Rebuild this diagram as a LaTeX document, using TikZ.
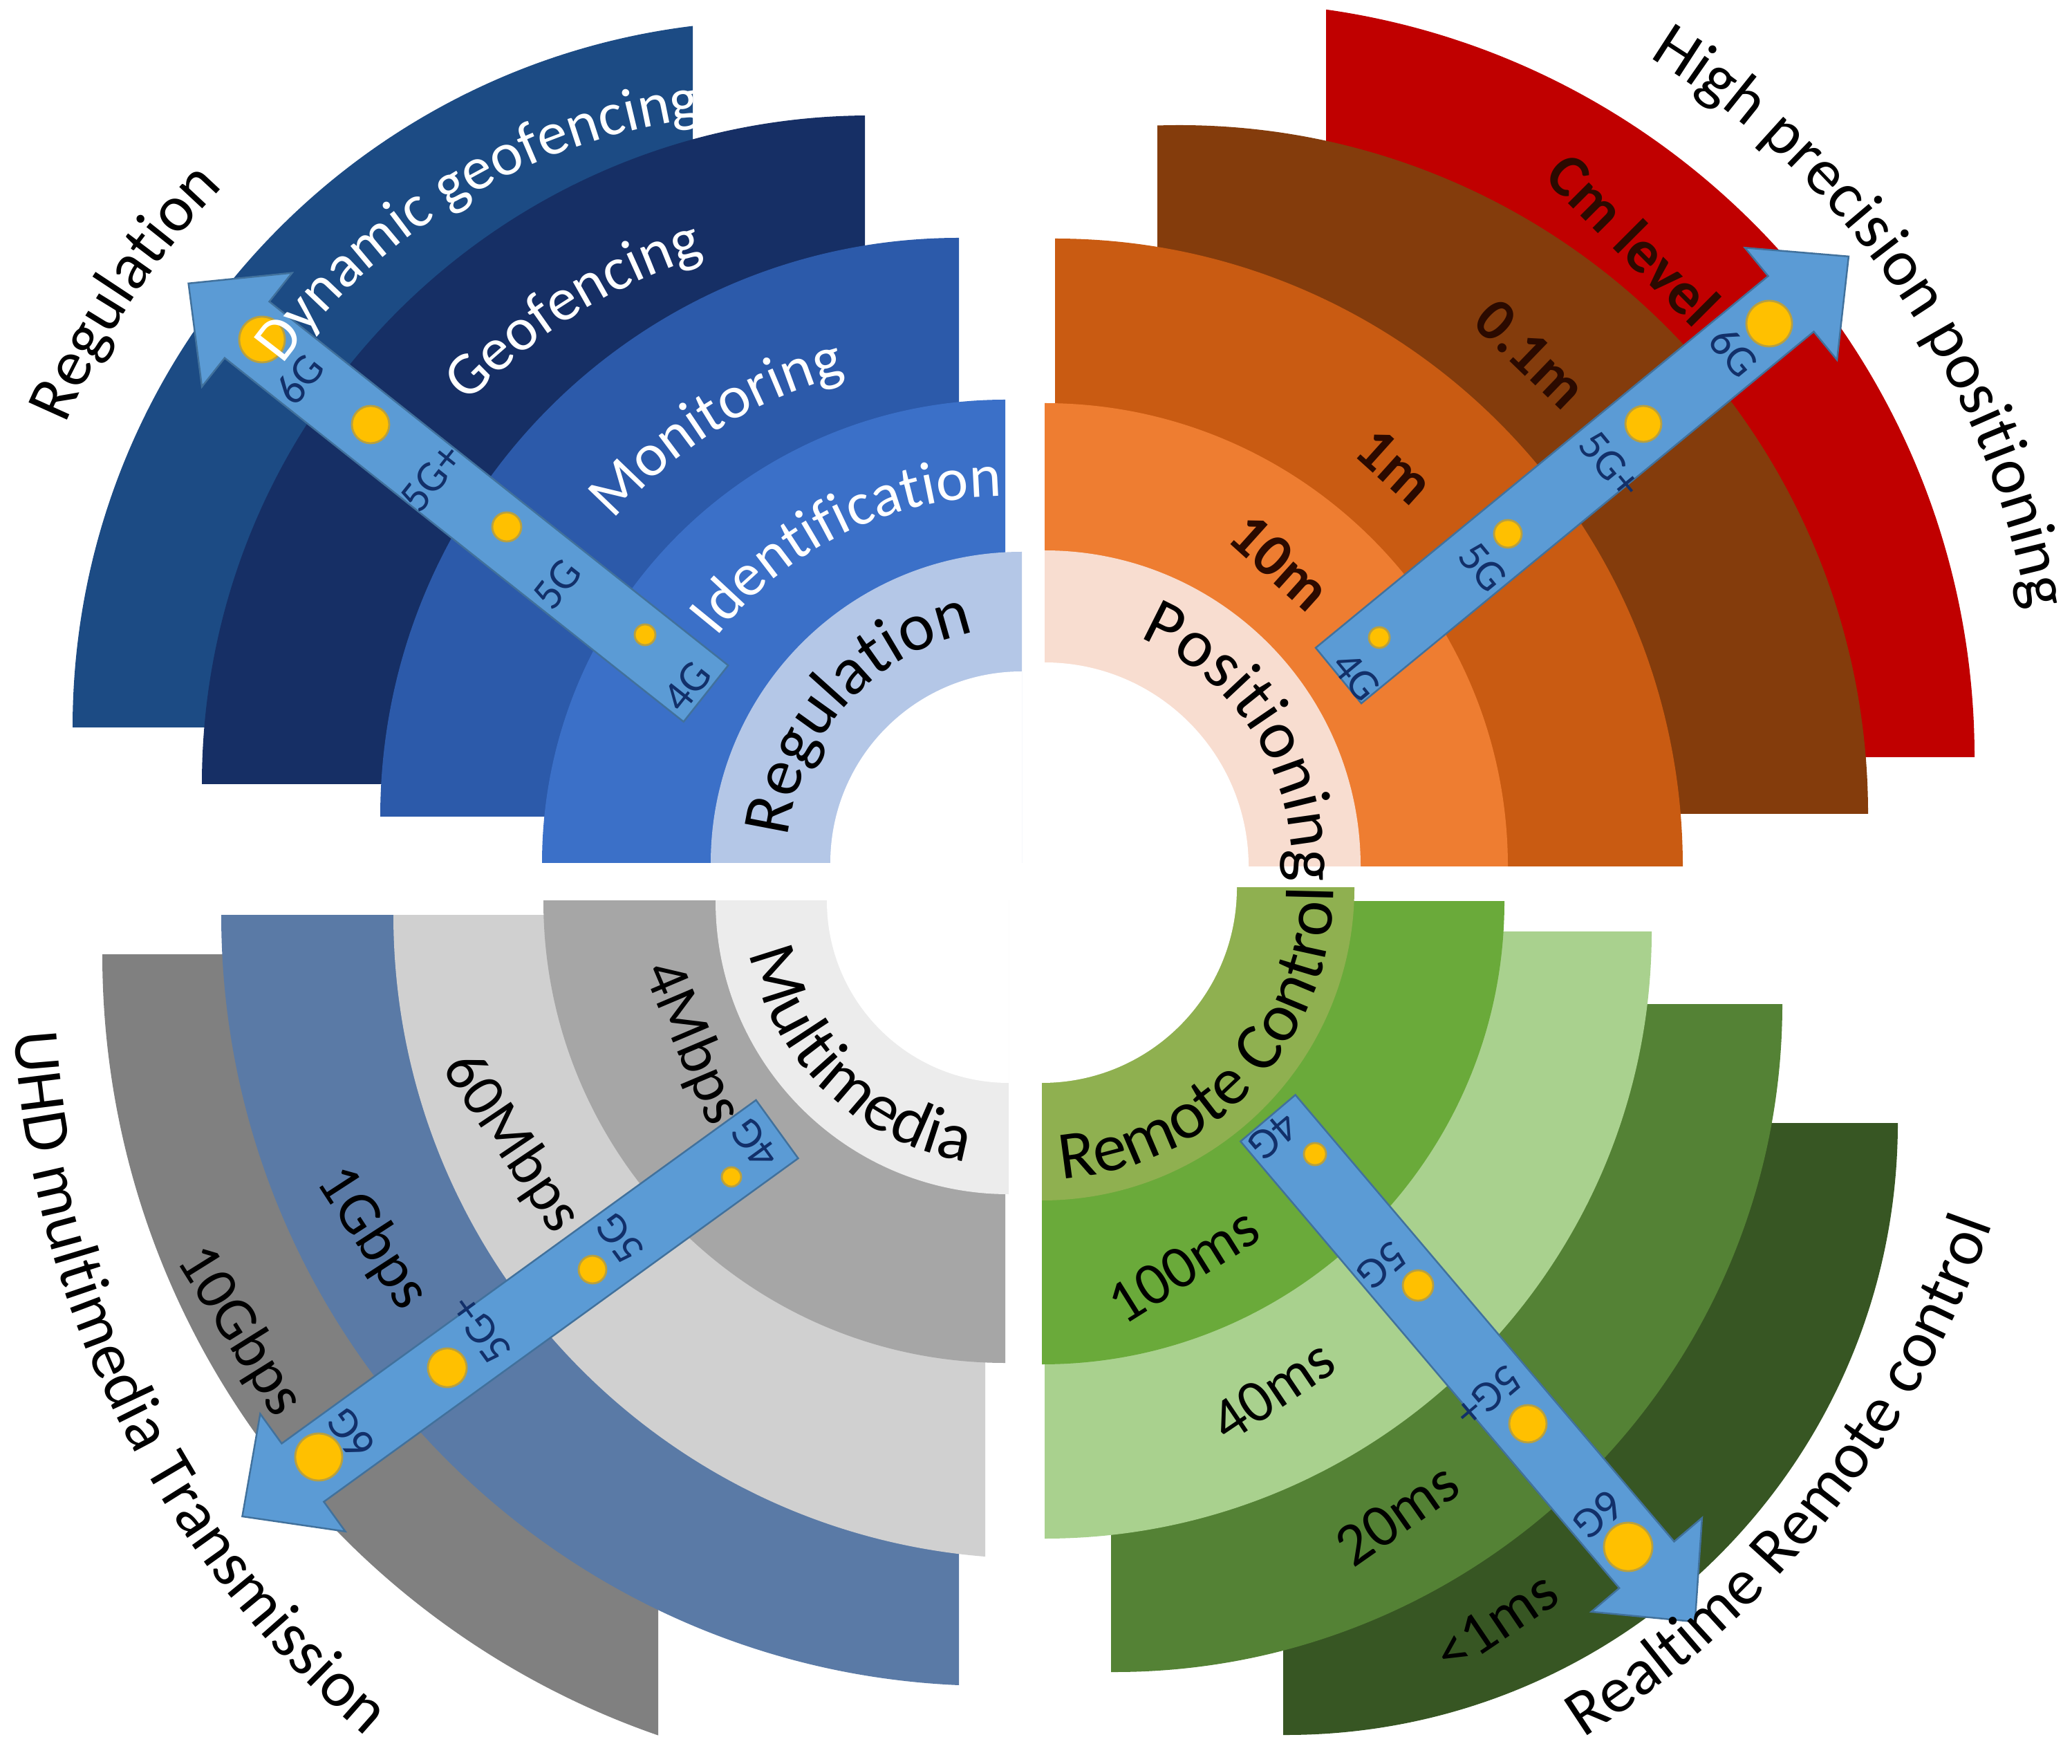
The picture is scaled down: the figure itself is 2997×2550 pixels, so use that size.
\documentclass[tikz,border=0pt]{standalone}
\usepackage{fontspec}
\setmainfont{Carlito}
\usetikzlibrary{decorations.text}

\definecolor{tlA}{HTML}{1C4B84}
\definecolor{tlB}{HTML}{162F65}
\definecolor{tlC}{HTML}{2C5AAA}
\definecolor{tlD}{HTML}{3B70C8}
\definecolor{tlE}{HTML}{B4C7E7}
\definecolor{trA}{HTML}{C00000}
\definecolor{trB}{HTML}{843C0C}
\definecolor{trC}{HTML}{C95B12}
\definecolor{trD}{HTML}{EE7D31}
\definecolor{trE}{HTML}{F8DDD0}
\definecolor{blA}{HTML}{808080}
\definecolor{blB}{HTML}{5A7AA6}
\definecolor{blC}{HTML}{D0D0D0}
\definecolor{blD}{HTML}{A6A6A6}
\definecolor{blE}{HTML}{ECECEC}
\definecolor{brA}{HTML}{375623}
\definecolor{brB}{HTML}{548235}
\definecolor{brC}{HTML}{A9D18E}
\definecolor{brD}{HTML}{6AAA3A}
\definecolor{brE}{HTML}{8FB050}
\definecolor{arrowfill}{HTML}{5B9BD5}
\definecolor{arrowedge}{HTML}{41719C}
\definecolor{dotfill}{HTML}{FFC000}
\definecolor{dotedge}{HTML}{B8A040}
\definecolor{genlabel}{HTML}{12306A}
\definecolor{brownlabel}{HTML}{2B0A00}

% band: color, center, radius, clip corner 1, clip corner 2
\newcommand{\band}[5]{\begin{scope}\clip (#4) rectangle (#5);\fill[#1] (#2) circle[radius=#3];\end{scope}}
% clockwise text along arc: center, radius, mid angle, font, color, text
\newcommand{\cwtext}[6]{\path[decorate,decoration={text along path,text align=center,text color=#5,text={|#4|#6}}] ([shift={(#3+70:#2)}]#1) arc[start angle=#3+70,end angle=#3-70,radius=#2];}
\newcommand{\ccwtext}[6]{\path[decorate,decoration={text along path,text align=center,text color=#5,text={|#4|#6}}] ([shift={(#3-70:#2)}]#1) arc[start angle=#3-70,end angle=#3+70,radius=#2];}
\newcommand{\netarrow}[3]{\begin{scope}[shift={(#1,#2)},rotate=#3]
\filldraw[fill=arrowfill,draw=arrowedge,line width=0.7pt] (0,-52) -- (847,-52) -- (847,-105) -- (955,0) -- (847,105) -- (847,52) -- (0,52) -- cycle;
\end{scope}}
\newcommand{\bandfont}{\fontsize{25}{30}\selectfont}
\newcommand{\innerfont}{\fontsize{28}{33}\selectfont}
\newcommand{\outerfont}{\fontsize{27}{32}\selectfont}

\tikzset{
  gdot/.style={fill=dotfill,draw=dotedge,line width=0.8pt},
  glab/.style={font=\fontsize{18}{21}\selectfont,text=genlabel,inner sep=0pt},
  slab/.style={font=\bandfont,inner sep=0pt}
}

\begin{document}
\begin{tikzpicture}[x=0.01cm,y=0.01cm]
\useasboundingbox (0,0) rectangle (2997,2550);
\fill[white] (0,0) rectangle (2997,2550);

% ---------- top left (blue) ----------
\band{tlA}{1127,1498}{1022}{0,1498}{1002,2550}
\band{tlB}{1259,1416}{967}{0,1416}{1251,2550}
\band{tlC}{1387,1369}{837}{0,1369}{1387,2550}
\band{tlD}{1454,1302}{670}{0,1302}{1454,2550}
\band{tlE}{1478,1302}{450}{0,1302}{1478,2550}
\band{white}{1478,1302}{277}{0,1302}{1478,2550}

% ---------- top right (red/orange) ----------
\band{trA}{1764,1455}{1092}{1918,1455}{2997,2550}
\band{trB}{1706,1373}{996}{1674,1373}{2997,2550}
\band{trC}{1526,1297}{908}{1526,1297}{2997,2550}
\band{trD}{1511,1297}{670}{1511,1297}{2997,2550}
\band{trE}{1511,1297}{457}{1511,1297}{2997,2550}
\band{white}{1511,1297}{295}{1511,1297}{2997,2550}

% ---------- bottom left (grey) ----------
\band{blA}{1343,1170}{1195}{0,0}{952,1170}
\band{blB}{1435,1227}{1115}{0,0}{1387,1227}
\band{blC}{1500,1227}{931}{0,0}{1425,1227}
\band{blD}{1454,1247}{668}{0,0}{1454,1247}
\band{blE}{1459,1247}{424}{0,0}{1459,1247}
\band{white}{1459,1247}{263}{0,0}{1459,1247}

% ---------- bottom right (green) ----------
\band{brA}{1860,926}{885}{1856,0}{2997,926}
\band{brB}{1612,1098}{966}{1607,0}{2997,1098}
\band{brC}{1511,1203}{878}{1511,0}{2997,1203}
\band{brD}{1507,1246}{669}{1507,0}{2997,1246}
\band{brE}{1507,1266}{452}{1507,0}{2997,1266}
\band{white}{1507,1266}{282}{1507,0}{2997,1266}

% ---------- arrows ----------
\netarrow{1021}{1547}{141.6}
\netarrow{1936}{1573}{39.4}
\netarrow{1124}{917}{215.9}
\netarrow{1834}{933}{-49.7}

% ---------- dots ----------
\filldraw[gdot] (933,1632) circle[radius=15];
\filldraw[gdot] (733,1788) circle[radius=21];
\filldraw[gdot] (536,1936) circle[radius=27];
\filldraw[gdot] (379,2059) circle[radius=33];
\filldraw[gdot] (1995,1628) circle[radius=15];
\filldraw[gdot] (2181,1778) circle[radius=20];
\filldraw[gdot] (2377,1937) circle[radius=26];
\filldraw[gdot] (2559,2082) circle[radius=33];
\filldraw[gdot] (1058,848) circle[radius=14];
\filldraw[gdot] (857,714) circle[radius=20];
\filldraw[gdot] (647,572) circle[radius=28];
\filldraw[gdot] (461,443) circle[radius=34];
\filldraw[gdot] (1902,881) circle[radius=16];
\filldraw[gdot] (2051,691) circle[radius=22];
\filldraw[gdot] (2210,491) circle[radius=27];
\filldraw[gdot] (2355,313) circle[radius=35];

% ---------- generation labels ----------
\node[glab,rotate=51.6] (tlg4) at (994,1557) {4G};
\node[glab,rotate=51.6] (tlg5) at (806,1705) {5G};
\node[glab,rotate=51.6] (tlg5p) at (624,1859) {5G+};
\node[glab,rotate=51.6] (tlg6) at (433,2002) {6G};
\node[glab,rotate=-50.6] (trg4) at (1962,1572) {4G};
\node[glab,rotate=-50.6] (trg5) at (2145,1730) {5G};
\node[glab,rotate=-50.6] (trg5p) at (2329,1878) {5G+};
\node[glab,rotate=-50.6] (trg6) at (2508,2041) {6G};
\node[glab,rotate=125.9] (blg4) at (1092,896) {4G};
\node[glab,rotate=125.9] (blg5) at (897,759) {5G};
\node[glab,rotate=125.9] (blg5p) at (696,627) {5G+};
\node[glab,rotate=125.9] (blg6) at (507,476) {6G};
\node[glab,rotate=-139.7] (brg4) at (1842,907) {4G};
\node[glab,rotate=-139.7] (brg5) at (1999,720) {5G};
\node[glab,rotate=-139.7] (brg5p) at (2153,531) {5G+};
\node[glab,rotate=-139.7] (brg6) at (2312,359) {6G};

% ---------- curved labels ----------
\cwtext{1127,1498}{889}{120.6}{\bandfont}{white}{Dynamic geofencing}
\cwtext{1259,1416}{801}{122}{\bandfont}{white}{Geofencing}
\cwtext{1387,1369}{659}{121.9}{\bandfont}{white}{Monitoring}
\cwtext{1454,1302}{530}{116.2}{\bandfont}{white}{Identification}
\cwtext{1478,1302}{341}{137.6}{\innerfont}{black}{Regulation}
\cwtext{1127,1498}{1121}{146.4}{\outerfont}{black}{Regulation}

\cwtext{1511,1297}{358}{32}{\innerfont}{black}{Positioning}
\cwtext{1764,1455}{1188}{34.4}{\outerfont}{black}{High precision positioning}

\ccwtext{1459,1247}{382}{226}{\innerfont}{black}{Multimedia}
\ccwtext{1478,1148}{1460}{206.5}{\outerfont}{black}{UHD multimedia Transmission}

\ccwtext{1507,1266}{422}{317}{\innerfont}{black}{Remote Control}
\ccwtext{1507,1266}{1458}{321.5}{\outerfont}{black}{Realtime Remote control}

% ---------- short labels ----------
\node[slab,rotate=-45,text=brownlabel,font=\bandfont\bfseries] (cmlevel) at (2363,2204) {Cm level};
\node[slab,rotate=-44,text=brownlabel,font=\bandfont\bfseries] (m01) at (2214,2038) {0.1m};
\node[slab,rotate=-42,text=brownlabel,font=\bandfont\bfseries] (m1) at (2018,1876) {1m};
\node[slab,rotate=-42,text=brownlabel,font=\bandfont\bfseries] (m10) at (1851,1737) {10m};

\node[slab,rotate=-67] (mb4) at (1000,1041) {4Mbps};
\node[slab,rotate=-56] (mb60) at (739,897) {60Mbps};
\node[slab,rotate=-57] (gb1) at (538,759) {1Gbps};
\node[slab,rotate=-58] (gb10) at (346,625) {10Gbps};

\node[slab,rotate=32] (ms100) at (1712,720) {100ms};
\node[slab,rotate=34] (ms40) at (1841,539) {40ms};
\node[slab,rotate=35] (ms20) at (2021,360) {20ms};
\node[slab,rotate=34] (ms1) at (2164,204) {<1ms};
\end{tikzpicture}
\end{document}
